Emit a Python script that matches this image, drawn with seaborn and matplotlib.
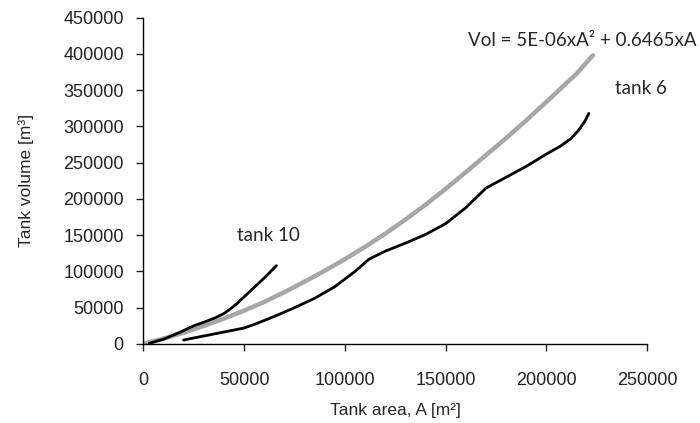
import numpy as np
import pandas as pd
import matplotlib
matplotlib.use("Agg")
import matplotlib.pyplot as plt
import seaborn as sns

# Data
fit_area = [0, 10000, 20000, 30000, 40000, 50000, 60000, 70000, 80000, 90000,
            100000, 110000, 120000, 130000, 140000, 150000, 160000, 170000,
            180000, 190000, 200000, 210000, 215000, 223000]
fit_volume = [0, 7500, 15500, 25000, 35000, 46000, 58000, 71500, 86000,
              101000, 117000, 134000, 152000, 171500, 192000, 214000, 237000,
              260500, 284000, 308500, 334000, 360000, 373000, 398000]

tank10_area = [3000, 10000, 18000, 25000, 31000, 36000, 40000, 44000, 47000,
               50000, 55000, 60000, 66000]
tank10_volume = [1000, 6500, 16000, 25000, 31000, 36500, 42000, 50000, 57000,
                 65000, 78000, 91000, 108000]

tank6_area = [20000, 30000, 40000, 50000, 56000, 65000, 75000, 85000, 95000,
              105000, 112000, 120000, 130000, 140000, 150000, 160000, 170000,
              180000, 190000, 200000, 207000, 212000, 216000, 219000, 221000]
tank6_volume = [5500, 11000, 16500, 22000, 28000, 38000, 50000, 63000, 79000,
                100000, 117000, 128000, 139000, 151000, 166000, 188000, 215000,
                230000, 245000, 262000, 273000, 283000, 295000, 307000, 318000]

x_ticks = [0, 50000, 100000, 150000, 200000, 250000]
y_ticks = list(range(0, 450001, 50000))

sns.set_style("ticks")
plt.rcParams['font.family'] = ['Liberation Sans', 'DejaVu Sans']

fig = plt.figure(figsize=(7, 4.23), dpi=100)
ax = fig.add_axes([0.2047, 0.1868, 0.72, 0.7714])

sns.lineplot(x=fit_area, y=fit_volume, ax=ax, color="#a6a6a6", linewidth=3.2)
sns.lineplot(x=tank10_area, y=tank10_volume, ax=ax, color="black", linewidth=2)
sns.lineplot(x=tank6_area, y=tank6_volume, ax=ax, color="black", linewidth=2)

ax.set_xlim(0, 250000)
ax.set_ylim(0, 450000)
ax.set_xticks(x_ticks)
ax.set_yticks(y_ticks)
ax.set_xticklabels([str(t) for t in x_ticks])
ax.set_yticklabels([str(t) for t in y_ticks])
ax.tick_params(axis="both", direction="out", length=5, width=1,
               labelsize=13, colors="#222222")
ax.tick_params(axis="x", pad=15)
ax.tick_params(axis="y", pad=9)
for s in ["left", "bottom"]:
    ax.spines[s].set_color("black")
    ax.spines[s].set_linewidth(1)
sns.despine(ax=ax)

ax.set_xlabel("Tank area, A [m²]", fontsize=12.5, labelpad=10)
ax.set_ylabel("Tank volume [m³]", fontsize=12.5, labelpad=21)

note_font = ['Lato', 'DejaVu Sans']
ax.text(46500, 149000, "tank 10", fontsize=13.5, family=note_font,
        va="center", ha="left")
ax.text(233800, 353000, "tank 6", fontsize=13.5, family=note_font,
        va="center", ha="left", clip_on=False)
ax.text(161000, 419000, "Vol = 5E-06xA² + 0.6465xA", fontsize=13.5,
        family=note_font, va="center", ha="left", clip_on=False)

fig.savefig("out.png", dpi=100)
